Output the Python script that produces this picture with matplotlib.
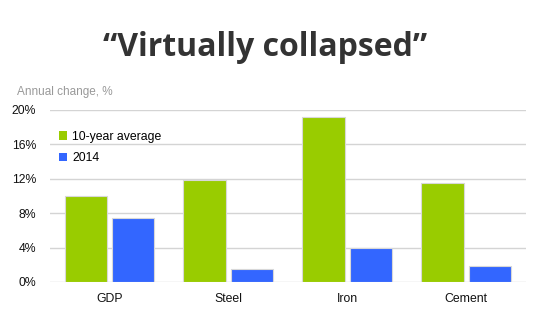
import numpy as np
import matplotlib.pyplot as plt
from matplotlib.ticker import FuncFormatter

categories = ["GDP", "Steel", "Iron", "Cement"]
avg_10yr = [10.0, 11.9, 19.2, 11.5]
y2014 = [7.4, 1.5, 3.95, 1.85]
yticks = [0, 4, 8, 12, 16, 20]

green = "#99cc00"
blue = "#3366ff"

plt.rcParams["font.family"] = ["Liberation Sans", "DejaVu Sans"]

fig = plt.figure(figsize=(5.41, 3.33), dpi=100)
ax = fig.add_axes([0.0924, 0.1532, 0.8796, 0.5165])

x = np.arange(len(categories))
w = 0.36
gap = 0.018
ax.bar(x - w / 2 - gap, avg_10yr, width=w, color=green, edgecolor="#d8d8d8",
       linewidth=0.8, label="10-year average", zorder=3)
ax.bar(x + w / 2 + gap, y2014, width=w, color=blue, edgecolor="#d8d8d8",
       linewidth=0.8, label="2014", zorder=3)

ax.set_xlim(-0.5, 3.5)
ax.set_ylim(0, 20)
ax.set_yticks(yticks)
ax.yaxis.set_major_formatter(FuncFormatter(lambda v, p: f"{v:.0f}%"))
ax.set_xticks(x)
ax.set_xticklabels(categories)
ax.tick_params(length=0, labelsize=8.8, colors="#111111")
ax.tick_params(axis="y", pad=10)
ax.tick_params(axis="x", pad=8)
ax.grid(axis="y", color="#d4d4d4", linewidth=1.0, zorder=0)
for s in ax.spines.values():
    s.set_visible(False)

leg = ax.legend(loc="upper left", bbox_to_anchor=(0.0, 0.93), frameon=False,
                fontsize=8.8, handlelength=0.7, handleheight=0.7,
                handletextpad=0.4, labelspacing=0.8, borderaxespad=0.3)
for h in leg.legend_handles:
    h.set_edgecolor("none")

fig.text(0.031, 0.715, "Annual change, %", fontsize=8.5, color="#999999")
fig.text(0.49, 0.857, "\u201cVirtually collapsed\u201d", fontsize=23,
         fontweight="bold", family="Open Sans", color="#333333",
         ha="center", va="center")

fig.savefig("out.png", dpi=100)
